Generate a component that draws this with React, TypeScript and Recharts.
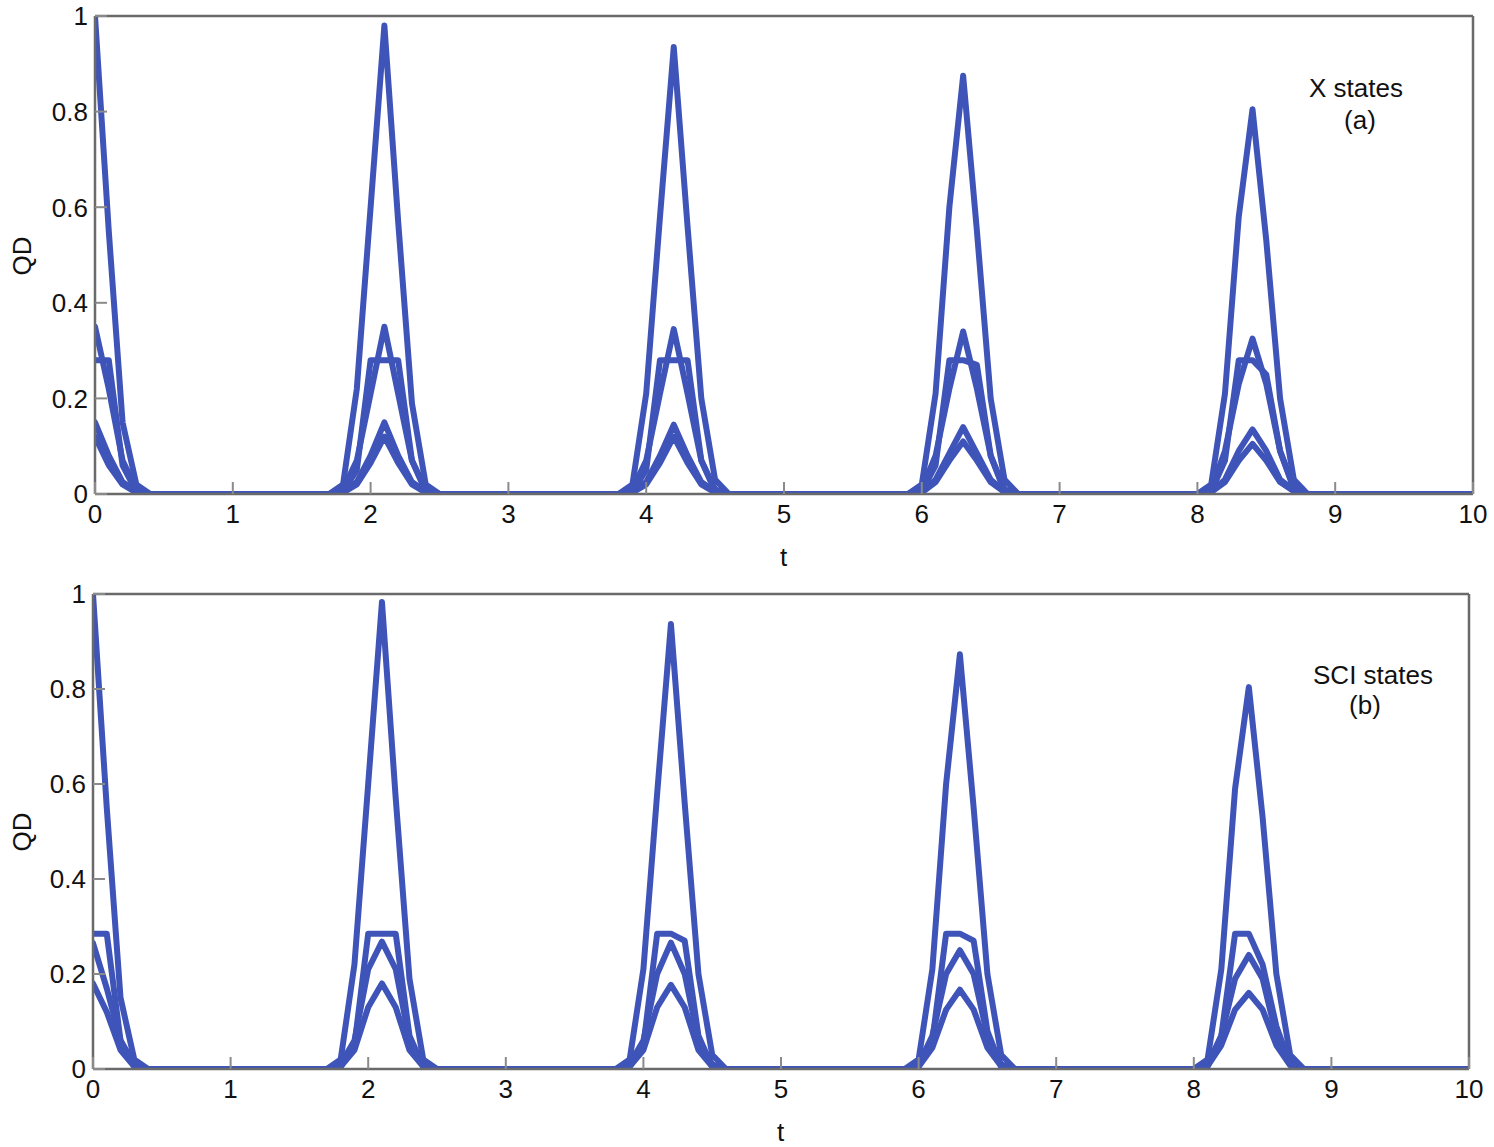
import React from "react";
import { LineChart, Line, XAxis, YAxis } from "recharts";

// sample times (only around the revivals; in between every curve is 0)
const T = [
  0, 0.1, 0.2, 0.3, 0.4,
  1.7, 1.8, 1.9, 2.0, 2.1, 2.2, 2.3, 2.4, 2.5,
  3.8, 3.9, 4.0, 4.1, 4.2, 4.3, 4.4, 4.5, 4.6,
  5.9, 6.0, 6.1, 6.2, 6.3, 6.4, 6.5, 6.6, 6.7,
  8.0, 8.1, 8.2, 8.3, 8.4, 8.5, 8.6, 8.7, 8.8,
  10,
];

// (a) X states
const XA = [1.0, 0.55, 0.15, 0.02, 0,
  0, 0.02, 0.22, 0.6, 0.98, 0.57, 0.19, 0.02, 0,
  0, 0.02, 0.21, 0.58, 0.935, 0.56, 0.2, 0.03, 0,
  0, 0.02, 0.21, 0.6, 0.875, 0.55, 0.2, 0.03, 0,
  0, 0.02, 0.21, 0.58, 0.805, 0.53, 0.2, 0.03, 0,
  0];
const XB = [0.35, 0.22, 0.07, 0.01, 0,
  0, 0.01, 0.07, 0.21, 0.35, 0.21, 0.07, 0.01, 0,
  0, 0.01, 0.07, 0.21, 0.345, 0.21, 0.07, 0.01, 0,
  0, 0.01, 0.08, 0.22, 0.34, 0.22, 0.08, 0.01, 0,
  0, 0.01, 0.09, 0.23, 0.325, 0.23, 0.09, 0.015, 0,
  0];
const XC = [0.28, 0.28, 0.06, 0.005, 0,
  0, 0.005, 0.05, 0.28, 0.28, 0.28, 0.07, 0.005, 0,
  0, 0.005, 0.05, 0.28, 0.28, 0.28, 0.07, 0.005, 0,
  0, 0.005, 0.06, 0.28, 0.28, 0.27, 0.08, 0.005, 0,
  0, 0.005, 0.07, 0.28, 0.28, 0.25, 0.09, 0.01, 0,
  0];
const XD = [0.15, 0.08, 0.025, 0.005, 0,
  0, 0.005, 0.025, 0.08, 0.15, 0.08, 0.025, 0.005, 0,
  0, 0.005, 0.025, 0.08, 0.145, 0.08, 0.025, 0.005, 0,
  0, 0.005, 0.03, 0.085, 0.14, 0.085, 0.03, 0.005, 0,
  0, 0.005, 0.03, 0.09, 0.135, 0.09, 0.03, 0.008, 0,
  0];
const XE = [0.12, 0.06, 0.02, 0.003, 0,
  0, 0.003, 0.02, 0.065, 0.12, 0.065, 0.02, 0.003, 0,
  0, 0.003, 0.02, 0.065, 0.12, 0.065, 0.02, 0.003, 0,
  0, 0.003, 0.025, 0.07, 0.11, 0.07, 0.025, 0.004, 0,
  0, 0.004, 0.025, 0.07, 0.105, 0.07, 0.025, 0.006, 0,
  0];

// (b) SCI states
const SA = [1.0, 0.55, 0.15, 0.02, 0,
  0, 0.02, 0.22, 0.6, 0.983, 0.57, 0.19, 0.02, 0,
  0, 0.02, 0.21, 0.58, 0.937, 0.56, 0.2, 0.03, 0,
  0, 0.02, 0.21, 0.6, 0.873, 0.55, 0.2, 0.03, 0,
  0, 0.02, 0.21, 0.59, 0.804, 0.53, 0.2, 0.03, 0,
  0];
const SC = [0.285, 0.285, 0.06, 0.005, 0,
  0, 0.005, 0.05, 0.285, 0.285, 0.285, 0.07, 0.005, 0,
  0, 0.005, 0.05, 0.285, 0.285, 0.27, 0.07, 0.005, 0,
  0, 0.005, 0.06, 0.285, 0.285, 0.27, 0.08, 0.005, 0,
  0, 0.005, 0.07, 0.285, 0.285, 0.22, 0.09, 0.01, 0,
  0];
const SB = [0.265, 0.17, 0.06, 0.01, 0,
  0, 0.01, 0.06, 0.21, 0.268, 0.21, 0.06, 0.01, 0,
  0, 0.01, 0.06, 0.2, 0.266, 0.2, 0.06, 0.01, 0,
  0, 0.01, 0.07, 0.2, 0.25, 0.2, 0.07, 0.01, 0,
  0, 0.01, 0.07, 0.19, 0.24, 0.19, 0.07, 0.015, 0,
  0];
const SD = [0.18, 0.12, 0.04, 0.005, 0,
  0, 0.005, 0.04, 0.13, 0.18, 0.13, 0.04, 0.005, 0,
  0, 0.005, 0.04, 0.13, 0.177, 0.13, 0.04, 0.005, 0,
  0, 0.005, 0.045, 0.125, 0.167, 0.125, 0.045, 0.006, 0,
  0, 0.006, 0.05, 0.125, 0.16, 0.125, 0.05, 0.008, 0,
  0];

const X_TICKS = [0, 1, 2, 3, 4, 5, 6, 7, 8, 9, 10];
const Y_TICKS = [0, 0.2, 0.4, 0.6, 0.8, 1];
const Y_TICK_LABELS = ["0", "0.2", "0.4", "0.6", "0.8", "1"];

const dataA = T.map((t, i) => ({ t, a: XA[i], b: XB[i], c: XC[i], d: XD[i], e: XE[i] }));
const dataB = T.map((t, i) => ({ t, a: SA[i], b: SB[i], c: SC[i], d: SD[i] }));

const FONT = '"Liberation Sans", Arial, Helvetica, sans-serif';
const FS = 26;
const BLUE = "#3f54b8";
const FRAME = "#6a6a6a";
const TICKC = "#8a8a8a";
const TL = 12;
const XM = 9;
const YM = 7;

const XTick = (props: any) => {
  const { x, y, payload } = props;
  const ay = y - XM;
  return (
    <g>
      <line x1={x} x2={x} y1={ay} y2={ay - TL} stroke={TICKC} strokeWidth={2} />
      <text x={x} y={y} dy="0.75em" textAnchor="middle" fontFamily={FONT} fontSize={FS} fill="#111">
        {payload.value}
      </text>
    </g>
  );
};

const YTick = (props: any) => {
  const { x, y, payload } = props;
  const ax = x + YM;
  const idx = Y_TICKS.indexOf(payload.value);
  return (
    <g>
      <line x1={ax} x2={ax + TL} y1={y} y2={y} stroke={TICKC} strokeWidth={2} />
      <text x={x} y={y} dy="0.36em" textAnchor="end" fontFamily={FONT} fontSize={FS} fill="#111">
        {idx >= 0 ? Y_TICK_LABELS[idx] : payload.value}
      </text>
    </g>
  );
};

type PanelProps = {
  data: any[];
  keys: string[];
  top: number;
  height: number;
  margin: { top: number; left: number; right: number; bottom: number };
  title: string;
  sub: string;
  titleX: number;
  titleY: number;
  subX: number;
  subY: number;
};

const Panel = ({ data, keys, top, height, margin, title, sub, titleX, titleY, subX, subY }: PanelProps) => {
  const plotLeft = margin.left + 1;
  const plotRight = 1494 - margin.right - 1;
  const plotTop = margin.top + 1;
  const plotBottom = height - margin.bottom - 1;
  const cx = (plotLeft + plotRight) / 2;
  const cy = (plotTop + plotBottom) / 2;
  const textStyle = {
    position: "absolute" as const,
    textAlign: "center" as const,
    fontFamily: FONT,
    fontSize: FS,
    lineHeight: "30px",
    color: "#111",
  };
  return (
    <div style={{ position: "absolute", left: 0, top, width: 1494, height }}>
      <LineChart width={1494} height={height} data={data} margin={margin}>
        <XAxis
          dataKey="t"
          type="number"
          domain={[0, 10]}
          ticks={X_TICKS}
          allowDataOverflow
          height={1}
          tickSize={0}
          tickMargin={XM}
          tick={<XTick />}
          axisLine={{ stroke: FRAME, strokeWidth: 2.5 }}
          tickLine={false}
          interval={0}
        />
        <XAxis
          xAxisId="top"
          orientation="top"
          dataKey="t"
          type="number"
          domain={[0, 10]}
          ticks={X_TICKS}
          allowDataOverflow
          height={1}
          mirror
          tick={false}
          tickSize={TL}
          tickLine={{ stroke: TICKC, strokeWidth: 2 }}
          axisLine={{ stroke: FRAME, strokeWidth: 2.5 }}
          interval={0}
        />
        <YAxis
          type="number"
          domain={[0, 1]}
          ticks={Y_TICKS}
          allowDataOverflow
          width={1}
          tickSize={0}
          tickMargin={YM}
          tick={<YTick />}
          axisLine={{ stroke: FRAME, strokeWidth: 2.5 }}
          tickLine={false}
          interval={0}
        />
        <YAxis
          yAxisId="right"
          orientation="right"
          type="number"
          domain={[0, 1]}
          ticks={Y_TICKS}
          allowDataOverflow
          width={1}
          mirror
          tick={false}
          tickSize={TL}
          tickLine={{ stroke: TICKC, strokeWidth: 2 }}
          axisLine={{ stroke: FRAME, strokeWidth: 2.5 }}
          interval={0}
        />
        {keys.map((k) => (
          <Line
            key={k}
            dataKey={k}
            type="linear"
            stroke={BLUE}
            strokeWidth={6}
            strokeLinejoin="round"
            strokeLinecap="round"
            dot={false}
            activeDot={false}
            isAnimationActive={false}
          />
        ))}
      </LineChart>
      <div style={{ ...textStyle, left: cx - 50, top: plotBottom + 48, width: 100 }}>t</div>
      <div
        style={{
          ...textStyle,
          left: 22 - 50,
          top: cy - 15,
          width: 100,
          height: 30,
          transform: "rotate(-90deg)",
        }}
      >
        QD
      </div>
      <div style={{ ...textStyle, left: titleX - 100, top: titleY - 15, width: 200 }}>{title}</div>
      <div style={{ ...textStyle, left: subX - 100, top: subY - 15, width: 200 }}>{sub}</div>
    </div>
  );
};

export default function App() {
  return (
    <div style={{ position: "absolute", left: 0, top: 0, width: 1494, height: 1147, background: "#fff", overflow: "hidden" }}>
      <Panel
        data={dataA}
        keys={["e", "d", "c", "b", "a"]}
        top={0}
        height={575}
        margin={{ top: 16, left: 94, right: 21, bottom: 80 }}
        title="X states"
        sub="(a)"
        titleX={1356}
        titleY={88}
        subX={1360}
        subY={120}
      />
      <Panel
        data={dataB}
        keys={["d", "b", "c", "a"]}
        top={575}
        height={572}
        margin={{ top: 19, left: 92, right: 25, bottom: 77 }}
        title="SCI states"
        sub="(b)"
        titleX={1373}
        titleY={100}
        subX={1365}
        subY={130}
      />
    </div>
  );
}
